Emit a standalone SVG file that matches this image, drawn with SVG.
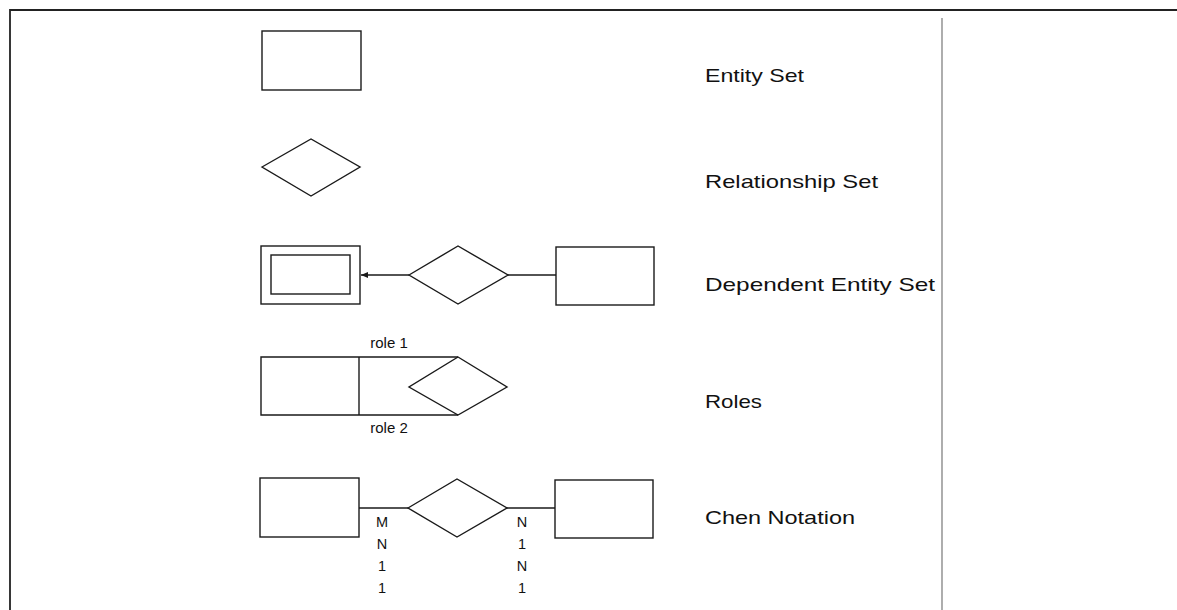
<svg xmlns="http://www.w3.org/2000/svg" width="1177" height="610" viewBox="0 0 1177 610">
<style>
.s{fill:none;stroke:#1a1a1a;stroke-width:1.4}
.lbl{font-family:"Liberation Sans",Arial,sans-serif;font-size:18.5px;fill:#111}
.sm{font-family:"Liberation Sans",Arial,sans-serif;font-size:15px;fill:#111;text-anchor:middle}
.card{font-family:"Liberation Sans",Arial,sans-serif;font-size:14.5px;fill:#111;text-anchor:middle}
</style>
<defs>
<marker id="ah" markerWidth="8" markerHeight="8" refX="7" refY="4" orient="auto" markerUnits="userSpaceOnUse">
<path d="M0,1 L7,4 L0,7 Z" fill="#1a1a1a"/>
</marker>
</defs>
<rect width="1177" height="610" fill="#fff"/>
<g id="frame">
<path d="M10,610 V10 H1177" fill="none" stroke="#222" stroke-width="1.8"/>
<line x1="942" y1="18" x2="942" y2="610" stroke="#777" stroke-width="1.2"/>
</g>
<g id="entity-set"><rect class="s" x="262" y="31" width="99" height="59"/></g>
<g id="relationship-set"><polygon class="s" points="262,167 311,139 360,167 311,196"/></g>
<g id="dependent-weak"><rect class="s" x="261" y="246" width="99" height="58"/><rect class="s" x="271" y="255" width="79" height="39"/></g>
<g id="dependent-rel"><polygon class="s" points="409,275 458,246 508,275 458,304"/></g>
<g id="dependent-strong"><rect class="s" x="556" y="247" width="98" height="58"/></g>
<g id="roles-entity"><path class="s" d="M458,357 H261 V415 H458"/><line class="s" x1="359" y1="357" x2="359" y2="415"/></g>
<g id="roles-rel"><polygon class="s" points="458,357 507,387 458,415 409,387"/></g>
<g id="chen-left"><rect class="s" x="260" y="478" width="99" height="59"/></g>
<g id="chen-rel"><polygon class="s" points="408,508 457,479 507,508 457,537"/></g>
<g id="chen-right"><rect class="s" x="555" y="480" width="98" height="58"/></g>
<g id="connectors">
<line class="s" x1="409" y1="275" x2="361" y2="275" marker-end="url(#ah)"/>
<line class="s" x1="508" y1="275" x2="556" y2="275"/>
<line class="s" x1="359" y1="508" x2="408" y2="508"/>
<line class="s" x1="507" y1="508" x2="555" y2="508"/>
</g>
<g id="labels">
<text class="lbl" x="705" y="82" textLength="99" lengthAdjust="spacingAndGlyphs">Entity Set</text>
<text class="lbl" x="705" y="188" textLength="173" lengthAdjust="spacingAndGlyphs">Relationship Set</text>
<text class="lbl" x="705" y="291" textLength="230" lengthAdjust="spacingAndGlyphs">Dependent Entity Set</text>
<text class="lbl" x="705" y="408" textLength="57" lengthAdjust="spacingAndGlyphs">Roles</text>
<text class="lbl" x="705" y="524" textLength="150" lengthAdjust="spacingAndGlyphs">Chen Notation</text>
<text class="sm" x="389" y="348">role 1</text>
<text class="sm" x="389" y="433">role 2</text>
<text class="card" x="382" y="527">M</text>
<text class="card" x="382" y="549">N</text>
<text class="card" x="382" y="571">1</text>
<text class="card" x="382" y="593">1</text>
<text class="card" x="522" y="527">N</text>
<text class="card" x="522" y="549">1</text>
<text class="card" x="522" y="571">N</text>
<text class="card" x="522" y="593">1</text>
</g>
</svg>
